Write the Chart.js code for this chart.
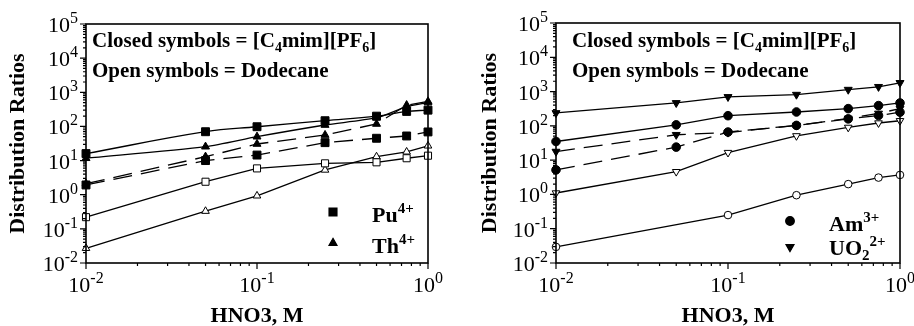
<!DOCTYPE html>
<html>
<head>
<meta charset="utf-8">
<script src="https://cdn.jsdelivr.net/npm/chart.js@4/dist/chart.umd.min.js"></script>
<style>
  body { margin: 0; background: #fff; }
  #wrap { position: relative; width: 914px; height: 326px; }
  canvas { position: absolute; top: 0; }
</style>
</head>
<body>
<div id="wrap">
  <canvas id="left" width="460" height="326" style="left:0"></canvas>
  <canvas id="right" width="454" height="326" style="left:460px"></canvas>
</div>
<script>
const xValues = [0.01, 0.05, 0.1, 0.25, 0.5, 0.75, 1];
const xTicks = [0.01, 0.1, 1];
const yTicks = [0.01, 0.1, 1, 10, 100, 1000, 10000, 100000];

// left panel: Pu(IV) and Th(IV)
const puIL = [16, 70, 98, 147, 200, 275, 300];
const thIL = [11.7, 25.5, 50, 110, 180, 380, 500];
const puDashed = [1.93, 10, 14.5, 33.5, 45, 52.5, 69];
const thDashed = [2.1, 13, 30.6, 56, 118, 420, 540];
const puDodecane = [0.22, 2.4, 5.9, 8.3, 8.9, 11.7, 13.9];
const thDodecane = [0.027, 0.33, 0.93, 5.3, 13, 18, 27];

// right panel: Am(III) and UO2(2+)
const uoIL = [238, 467, 700, 815, 1140, 1380, 1800];
const amIL = [35, 107, 198, 254, 318, 390, 466];
const uoDashed = [17.8, 55, 64, 103, 165, 230, 320];
const amDashed = [5.2, 24, 66, 103, 160, 200, 250];
const uoDodecane = [1.1, 4.6, 16.6, 51, 90, 121, 141];
const amDodecane = [0.0295, null, 0.25, 0.95, 2.0, 3.1, 3.7];

const SERIF = '"Liberation Serif", "Times New Roman", serif';

function pts(arr) {
    return xValues.map((x, i) => ({ x, y: arr[i] })).filter(p => p.y !== null);
}

function series(arr, shape, open, dashed, radius, extra) {
    return Object.assign({
        data: pts(arr),
        borderColor: '#000',
        borderWidth: 1.3,
        borderDash: dashed ? [19, 9] : [],
        pointStyle: shape === 'down' ? 'triangle' : shape,
        rotation: shape === 'down' ? 180 : 0,
        pointRadius: radius,
        pointBackgroundColor: open ? '#fff' : '#000',
        pointBorderColor: '#000',
        pointBorderWidth: 1,
        tension: 0,
        clip: false
    }, extra || {});
}

// text made of runs (for super/subscripts)
function drawRuns(ctx, x, y, runs, align) {
    let total = 0;
    runs.forEach(r => { ctx.font = r.font; r.w = ctx.measureText(r.t).width; total += r.w; });
    let cx = align === 'center' ? x - total / 2 : align === 'right' ? x - total : x;
    ctx.textAlign = 'left';
    ctx.textBaseline = 'alphabetic';
    runs.forEach(r => {
        ctx.font = r.font;
        ctx.fillText(r.t, cx, y + (r.dy || 0));
        cx += r.w;
    });
}

function pow10Runs(v) {
    const e = Math.round(Math.log10(v));
    return [
        { t: '10', font: '22px ' + SERIF },
        { t: String(e), font: '16px ' + SERIF, dy: -9 }
    ];
}

function makePlugin(cfg) {
    return {
        id: 'decor',
        afterDraw(chart) {
            const ctx = chart.ctx;
            const a = chart.chartArea;
            const xs = chart.scales.x, ys = chart.scales.y;
            ctx.save();
            ctx.fillStyle = '#000';
            ctx.strokeStyle = '#000';

            // frame
            ctx.lineWidth = 1.6;
            ctx.strokeRect(a.left, a.top, a.right - a.left, a.bottom - a.top);

            // ticks
            ctx.lineWidth = 1.2;
            ctx.beginPath();
            for (let d = -2; d < 5; d++) {
                for (let m = 1; m <= 9; m++) {
                    const py = ys.getPixelForValue(m * Math.pow(10, d));
                    const len = m === 1 ? 6 : 3;
                    ctx.moveTo(a.left - len, py); ctx.lineTo(a.left, py);
                }
            }
            ctx.moveTo(a.left - 6, ys.getPixelForValue(1e5)); ctx.lineTo(a.left, ys.getPixelForValue(1e5));
            for (let d = -2; d < 0; d++) {
                for (let m = 1; m <= 9; m++) {
                    const px = xs.getPixelForValue(m * Math.pow(10, d));
                    const len = m === 1 ? 6 : 3;
                    ctx.moveTo(px, a.bottom); ctx.lineTo(px, a.bottom + len);
                }
            }
            ctx.moveTo(xs.getPixelForValue(1), a.bottom); ctx.lineTo(xs.getPixelForValue(1), a.bottom + 6);
            ctx.stroke();

            // tick labels
            yTicks.forEach(v => {
                drawRuns(ctx, a.left - 8, ys.getPixelForValue(v) + 8, pow10Runs(v), 'right');
            });
            xTicks.forEach(v => {
                drawRuns(ctx, xs.getPixelForValue(v), a.bottom + 29, pow10Runs(v), 'center');
            });

            // axis titles
            ctx.font = 'bold 22px ' + SERIF;
            ctx.textAlign = 'center';
            ctx.textBaseline = 'alphabetic';
            ctx.fillText('HNO3, M', (a.left + a.right) / 2, 322);
            ctx.save();
            ctx.translate(cfg.yTitleX, (a.top + a.bottom) / 2);
            ctx.rotate(-Math.PI / 2);
            ctx.textBaseline = 'middle';
            ctx.fillText('Distribution Ratios', 0, 0);
            ctx.restore();

            // note text
            const b21 = 'bold 21px ' + SERIF, b14 = 'bold 14px ' + SERIF;
            drawRuns(ctx, cfg.noteX, 47, [
                { t: 'Closed symbols = [C', font: b21 },
                { t: '4', font: b14, dy: 5 },
                { t: 'mim][PF', font: b21 },
                { t: '6', font: b14, dy: 5 },
                { t: ']', font: b21 }
            ], 'left');
            drawRuns(ctx, cfg.noteX, 77, [{ t: 'Open symbols = Dodecane', font: b21 }], 'left');

            // legend
            cfg.legend.forEach(item => {
                Chart.helpers.drawPoint(ctx, {
                    pointStyle: item.style, rotation: item.rotation || 0,
                    radius: item.radius, borderWidth: 1
                }, item.mx, item.my);
                ctx.fillStyle = '#000';
                ctx.fill();
                drawRuns(ctx, item.tx, item.ty, item.runs, 'left');
            });
            ctx.restore();
        }
    };
}

function makeChart(id, datasets, padding, cfg) {
    new Chart(document.getElementById(id), {
        type: 'line',
        data: { datasets },
        options: {
            responsive: false,
            animation: false,
            devicePixelRatio: 1,
            layout: { padding },
            scales: {
                x: {
                    type: 'logarithmic', min: 0.01, max: 1,
                    ticks: { display: false }, grid: { display: false }, border: { display: false },
                    afterFit(s) { s.height = 0; }
                },
                y: {
                    type: 'logarithmic', min: 0.01, max: 100000,
                    ticks: { display: false }, grid: { display: false }, border: { display: false },
                    afterFit(s) { s.width = 0; }
                }
            },
            plugins: { legend: { display: false }, tooltip: { enabled: false } }
        },
        plugins: [makePlugin(cfg)]
    });
}

const b22 = 'bold 22px ' + SERIF, b15 = 'bold 15px ' + SERIF;

makeChart('left', [
    series(puIL, 'rect', false, false, 5.6, { tension: 0.4 }),
    series(thIL, 'triangle', false, false, 4.6, { tension: 0.25 }),
    series(puDashed, 'rect', false, true, 5.6),
    series(thDashed, 'triangle', false, true, 4.6),
    series(puDodecane, 'rect', true, false, 5),
    series(thDodecane, 'triangle', true, false, 4.4)
], { left: 86, right: 32, top: 24, bottom: 63 }, {
    yTitleX: 18, noteX: 92,
    legend: [
        { style: 'rect', radius: 5.6, mx: 333, my: 212, tx: 372, ty: 222,
          runs: [{ t: 'Pu', font: b22 }, { t: '4+', font: b15, dy: -9 }] },
        { style: 'triangle', radius: 4.6, mx: 333, my: 243, tx: 372, ty: 253,
          runs: [{ t: 'Th', font: b22 }, { t: '4+', font: b15, dy: -9 }] }
    ]
});

makeChart('right', [
    series(uoIL, 'down', false, false, 4.6),
    series(amIL, 'circle', false, false, 4.3),
    series(uoDashed, 'down', false, true, 4.6),
    series(amDashed, 'circle', false, true, 4.3),
    series(uoDodecane, 'down', true, false, 4.4),
    series(amDodecane, 'circle', true, false, 3.8)
], { left: 96, right: 14, top: 23, bottom: 63 }, {
    yTitleX: 30, noteX: 112,
    legend: [
        { style: 'circle', radius: 4.3, mx: 330, my: 221, tx: 369, ty: 231,
          runs: [{ t: 'Am', font: b22 }, { t: '3+', font: b15, dy: -9 }] },
        { style: 'triangle', rotation: 180, radius: 4.6, mx: 330, my: 247, tx: 369, ty: 255,
          runs: [{ t: 'UO', font: b22 }, { t: '2', font: b15, dy: 5 }, { t: '2+', font: b15, dy: -9 }] }
    ]
});
</script>
</body>
</html>
